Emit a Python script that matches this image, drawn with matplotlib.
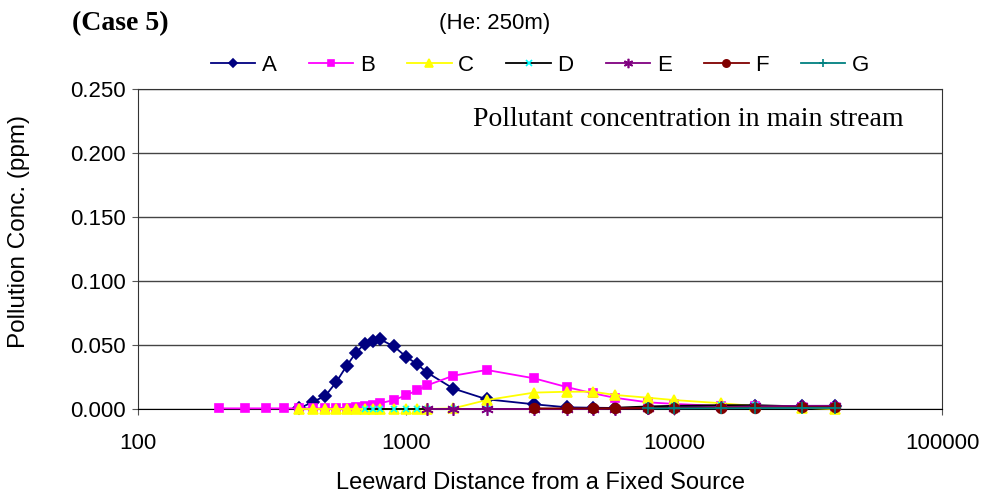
import matplotlib
matplotlib.use("Agg")
import matplotlib.pyplot as plt

plt.rcParams['font.family'] = ['Liberation Sans', 'DejaVu Sans']

# leeward distances (m)
x_A = [400, 450, 500, 550, 600, 650, 700, 750, 800, 900, 1000, 1100, 1200, 1500, 2000,
       3000, 4000, 5000, 6000, 8000, 10000, 15000, 20000, 30000, 40000]
y_A = [0.0005, 0.0057, 0.0102, 0.0213, 0.0336, 0.044, 0.0508, 0.053, 0.0544, 0.049, 0.0409,
       0.035, 0.0284, 0.016, 0.0076, 0.0037, 0.0013, 0.001, 0.0008, 0.001, 0.0015, 0.002,
       0.002, 0.002, 0.002]

x_B = [200, 250, 300, 350, 400, 450, 500, 550, 600, 650, 700, 750, 800, 900, 1000, 1100,
       1200, 1500, 2000, 3000, 4000, 5000, 6000, 8000, 10000, 15000, 20000, 30000, 40000]
y_B = [0.0005, 0.0005, 0.0005, 0.0005, 0.0005, 0.0005, 0.0005, 0.0007, 0.001, 0.0015, 0.002,
       0.003, 0.0045, 0.007, 0.0107, 0.0146, 0.0185, 0.026, 0.0305, 0.024, 0.017, 0.0122,
       0.0088, 0.0052, 0.004, 0.0023, 0.002, 0.0015, 0.0015]

x_C = [400, 450, 500, 550, 600, 650, 700, 750, 800, 900, 1000, 1100, 1200, 1500, 2000,
       3000, 4000, 5000, 6000, 8000, 10000, 15000, 20000, 30000, 40000]
y_C = [0, 0, 0, 0, 0, 0, 0, 0, 0, 0, 0, 0, 0, 0.0005, 0.007, 0.0128, 0.0135, 0.0135,
       0.011, 0.0088, 0.007, 0.0045, 0.0023, 0.001, 0]

x_D = [700, 750, 800, 900, 1000, 1100, 1200, 1500, 2000, 3000, 4000, 5000, 6000, 8000,
       10000, 15000, 20000, 30000, 40000]
y_D = [0, 0, 0, 0, 0, 0, 0, 0, 0, 0, 0, 0, 0.001, 0.002, 0.0025, 0.003, 0.003, 0.002, 0.002]

x_E = [1200, 1500, 2000, 3000, 4000, 5000, 6000, 8000, 10000, 15000, 20000, 30000, 40000]
y_E = [0, 0, 0, 0, 0, 0, 0.0003, 0.0005, 0.001, 0.0015, 0.002, 0.0025, 0.0025]

x_F = [3000, 4000, 5000, 6000, 8000, 10000, 15000, 20000, 30000, 40000]
y_F = [0.0005, 0.0005, 0.0005, 0.0005, 0.0008, 0.0008, 0.001, 0.001, 0.0012, 0.0013]

x_G = [8000, 10000, 15000, 20000, 30000, 40000]
y_G = [0.0005, 0.0005, 0.0006, 0.0007, 0.0008, 0.0008]

series = [
    ("A", x_A, y_A, "#000080", "D", 6),
    ("B", x_B, y_B, "#FF00FF", "s", 6),
    ("C", x_C, y_C, "#FFFF00", "^", 7),
    ("D", x_D, y_D, "#000000", "x", 5),
    ("E", x_E, y_E, "#800080", (6, 2, 0), 9),
    ("F", x_F, y_F, "#800000", "o", 7),
    ("G", x_G, y_G, "#008080", "+", 8),
]
marker_colors = {"D": "#00FFFF"}

fig = plt.figure(figsize=(9.86, 4.96), dpi=100)
ax = fig.add_axes([0.14, 0.1754, 0.8154, 0.6452])

for name, xs, ys, col, mk, ms in series:
    mc = marker_colors.get(name, col)
    ax.plot(xs, ys, color=col, marker=mk, markersize=ms, linewidth=1.3,
            markerfacecolor=mc, markeredgecolor=mc, markeredgewidth=1.2, label=name,
            clip_on=False, zorder=3)

ax.set_xscale("log")
ax.set_xlim(100, 100000)
ax.set_ylim(0, 0.25)
ax.set_xticks([100, 1000, 10000, 100000])
ax.set_xticklabels(["100", "1000", "10000", "100000"])
ax.xaxis.set_minor_locator(matplotlib.ticker.NullLocator())
ax.set_yticks([0, 0.05, 0.10, 0.15, 0.20, 0.25])
ax.set_yticklabels(["0.000", "0.050", "0.100", "0.150", "0.200", "0.250"])
ax.tick_params(labelsize=16, length=4, direction="out", color="#555555")
ax.tick_params(axis="x", pad=13)
ax.tick_params(axis="y", pad=5)
ax.grid(axis="y", color="#444444", linewidth=1)
ax.set_axisbelow(True)
for s in ax.spines.values():
    s.set_color("#333333")
ax.spines["bottom"].set_color("black")

ax.set_xlabel("Leeward Distance from a Fixed Source", fontsize=17, labelpad=13)
ax.set_ylabel("Pollution Conc. (ppm)", fontsize=17.5)
ax.yaxis.set_label_coords(-0.134, 0.556)

ax.text(0.952, 0.905, "Pollutant concentration in main stream", transform=ax.transAxes,
        ha="right", va="center", fontsize=20, family="Liberation Serif")

fig.text(0.073, 0.953, "(Case 5)", fontsize=20, fontweight="bold",
         family="Liberation Serif", ha="left", va="center")
fig.text(0.502, 0.953, "(He: 250m)", fontsize=16, ha="center", va="center")

ax.legend(loc="lower center", bbox_to_anchor=(0.5, 1.0), ncol=7, frameon=False,
          fontsize=16, handlelength=2.0, handletextpad=0.3, columnspacing=1.45,
          markerscale=0.75, borderaxespad=0.2)

fig.savefig("out.png", dpi=100)
